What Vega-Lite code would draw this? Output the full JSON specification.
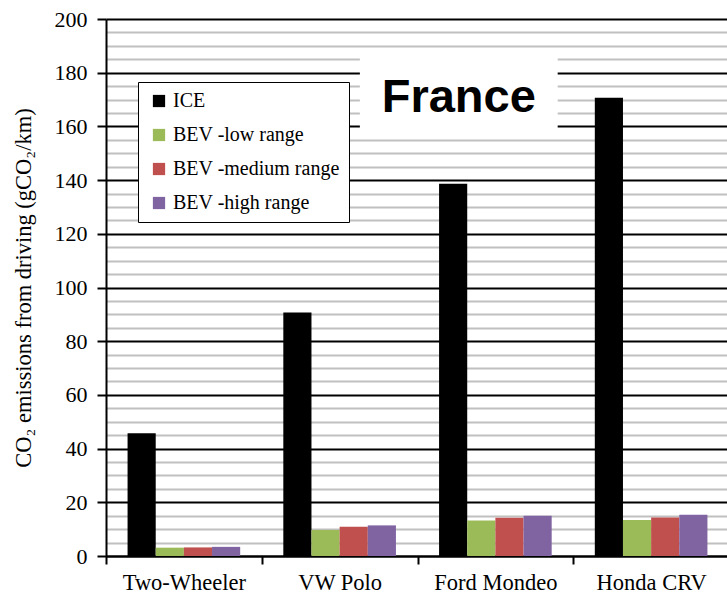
{
  "$schema": "https://vega.github.io/schema/vega-lite/v6.json",
  "width": 623,
  "height": 537,
  "autosize": "none",
  "padding": {"left": 106, "top": 19, "right": 0, "bottom": 38},
  "background": "white",
  "config": {"view": {"stroke": null}},
  "layer": [
    {
      "data": {"values": [
        {"vehicle": "Two-Wheeler", "type": "ICE", "co2": 45.7},
        {"vehicle": "Two-Wheeler", "type": "BEV -low range", "co2": 3.1},
        {"vehicle": "Two-Wheeler", "type": "BEV -medium range", "co2": 3.2},
        {"vehicle": "Two-Wheeler", "type": "BEV -high range", "co2": 3.4},
        {"vehicle": "VW Polo", "type": "ICE", "co2": 90.7},
        {"vehicle": "VW Polo", "type": "BEV -low range", "co2": 9.7},
        {"vehicle": "VW Polo", "type": "BEV -medium range", "co2": 10.9},
        {"vehicle": "VW Polo", "type": "BEV -high range", "co2": 11.4},
        {"vehicle": "Ford Mondeo", "type": "ICE", "co2": 138.6},
        {"vehicle": "Ford Mondeo", "type": "BEV -low range", "co2": 13.2},
        {"vehicle": "Ford Mondeo", "type": "BEV -medium range", "co2": 14.2},
        {"vehicle": "Ford Mondeo", "type": "BEV -high range", "co2": 15.0},
        {"vehicle": "Honda CRV", "type": "ICE", "co2": 170.7},
        {"vehicle": "Honda CRV", "type": "BEV -low range", "co2": 13.4},
        {"vehicle": "Honda CRV", "type": "BEV -medium range", "co2": 14.3},
        {"vehicle": "Honda CRV", "type": "BEV -high range", "co2": 15.4}
      ]},
      "mark": {"type": "bar"},
      "encoding": {
        "x": {
          "field": "vehicle", "type": "nominal", "sort": null, "title": null,
          "scale": {"paddingInner": 0, "paddingOuter": 0},
          "axis": {
            "tickBand": "extent", "labelAngle": 0, "grid": false,
            "domainColor": "black", "domainWidth": 2,
            "tickColor": "black", "tickWidth": 2, "tickSize": 8,
            "labelFont": "Liberation Serif", "labelFontSize": 22.5, "labelColor": "black",
            "labelPadding": 7
          }
        },
        "xOffset": {
          "field": "type", "type": "nominal",
          "sort": ["ICE", "BEV -low range", "BEV -medium range", "BEV -high range"],
          "scale": {"paddingOuter": 0.766, "paddingInner": 0}
        },
        "y": {
          "field": "co2", "type": "quantitative",
          "title": "CO₂ emissions from driving (gCO₂/km)",
          "scale": {"domain": [0, 200], "nice": false},
          "axis": {
            "values": [0,5,10,15,20,25,30,35,40,45,50,55,60,65,70,75,80,85,90,95,100,105,110,115,120,125,130,135,140,145,150,155,160,165,170,175,180,185,190,195,200],
            "labelExpr": "datum.value % 20 === 0 ? datum.label : ''",
            "grid": true,
            "gridColor": {"condition": {"test": "datum.value % 20 === 0", "value": "black"}, "value": "#c0c0c0"},
            "gridWidth": 1.8,
            "tickColor": {"condition": {"test": "datum.value % 20 === 0", "value": "black"}, "value": "transparent"},
            "tickWidth": 2, "tickSize": 9,
            "domainColor": "black", "domainWidth": 2,
            "labelFont": "Liberation Serif", "labelFontSize": 22, "labelColor": "black",
            "labelPadding": 10,
            "titleFont": "Liberation Serif", "titleFontSize": 22.5, "titleFontWeight": "normal",
            "titleColor": "black", "titlePadding": 19
          }
        },
        "color": {
          "field": "type", "type": "nominal",
          "scale": {
            "domain": ["ICE", "BEV -low range", "BEV -medium range", "BEV -high range"],
            "range": ["#000000", "#9BBB59", "#C0504D", "#8064A2"]
          },
          "legend": {
            "title": null, "orient": "none", "legendX": 32, "legendY": 63,
            "strokeColor": "black", "fillColor": "white",
            "padding": 9, "rowPadding": 14,
            "symbolType": "square", "symbolSize": 150, "symbolStrokeWidth": 0, "symbolOffset": 2,
            "labelFont": "Liberation Serif", "labelFontSize": 20, "labelColor": "black",
            "labelOffset": 4, "labelLimit": 300
          }
        }
      }
    },
    {
      "data": {"values": [{"label": "France"}]},
      "layer": [
        {
          "mark": {"type": "rect", "color": "white"},
          "encoding": {
            "x": {"datum": 1.63, "type": "quantitative", "scale": {"domain": [0, 4], "nice": false, "zero": false}, "axis": null},
            "x2": {"datum": 2.9},
            "y": {"datum": 157, "type": "quantitative", "title": "CO₂ emissions from driving (gCO₂/km)",
              "axis": {
                "values": [0,5,10,15,20,25,30,35,40,45,50,55,60,65,70,75,80,85,90,95,100,105,110,115,120,125,130,135,140,145,150,155,160,165,170,175,180,185,190,195,200],
                "labelExpr": "datum.value % 20 === 0 ? datum.label : ''",
                "grid": true,
                "gridColor": {"condition": {"test": "datum.value % 20 === 0", "value": "black"}, "value": "#c0c0c0"},
                "gridWidth": 1.8,
                "tickColor": {"condition": {"test": "datum.value % 20 === 0", "value": "black"}, "value": "transparent"},
                "tickWidth": 2, "tickSize": 9,
                "domainColor": "black", "domainWidth": 2,
                "labelFont": "Liberation Serif", "labelFontSize": 22, "labelColor": "black",
                "labelPadding": 10,
                "titleFont": "Liberation Serif", "titleFontSize": 22.5, "titleFontWeight": "normal",
                "titleColor": "black", "titlePadding": 19
              }
            },
            "y2": {"datum": 187.5}
          }
        },
        {
          "mark": {"type": "text", "font": "Liberation Sans", "fontWeight": "bold", "fontSize": 47, "color": "black", "baseline": "alphabetic", "align": "center"},
          "encoding": {
            "text": {"field": "label"},
            "x": {"datum": 2.265, "type": "quantitative"},
            "y": {"datum": 165.3, "type": "quantitative", "title": "CO₂ emissions from driving (gCO₂/km)",
              "axis": {
                "values": [0,5,10,15,20,25,30,35,40,45,50,55,60,65,70,75,80,85,90,95,100,105,110,115,120,125,130,135,140,145,150,155,160,165,170,175,180,185,190,195,200],
                "labelExpr": "datum.value % 20 === 0 ? datum.label : ''",
                "grid": true,
                "gridColor": {"condition": {"test": "datum.value % 20 === 0", "value": "black"}, "value": "#c0c0c0"},
                "gridWidth": 1.8,
                "tickColor": {"condition": {"test": "datum.value % 20 === 0", "value": "black"}, "value": "transparent"},
                "tickWidth": 2, "tickSize": 9,
                "domainColor": "black", "domainWidth": 2,
                "labelFont": "Liberation Serif", "labelFontSize": 22, "labelColor": "black",
                "labelPadding": 10,
                "titleFont": "Liberation Serif", "titleFontSize": 22.5, "titleFontWeight": "normal",
                "titleColor": "black", "titlePadding": 19
              }
            }
          }
        }
      ]
    }
  ],
  "resolve": {"scale": {"x": "independent"}}
}
